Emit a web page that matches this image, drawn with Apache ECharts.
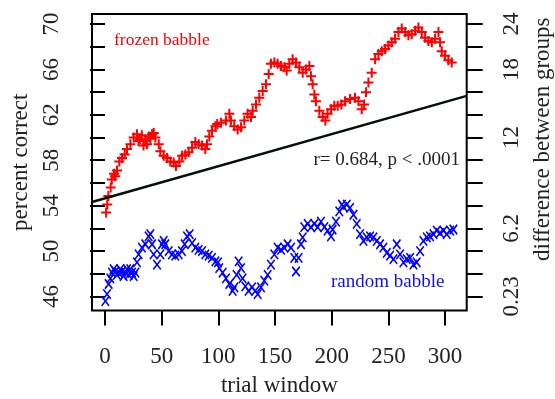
<!DOCTYPE html>
<html>
<head>
<meta charset="utf-8">
<script src="https://cdn.jsdelivr.net/npm/echarts@6/dist/echarts.min.js"></script>
<style>
html,body{margin:0;padding:0;background:#fff;}
#chart{width:555px;height:399px;}
</style>
</head>
<body>
<div id="chart"></div>
<script>
//数据: frozen babble (红色 +)
var frozenX = [1,2,3,5,6,8,9,10.6,12.6,15,17.4,19.4,22.4,25.3,28.2,29.5,31,32.5,34,35.6,37,38.5,40,41.5,43,44.4,47.4,48.8,51.8,54.7,57.6,60.6,62.6,65.6,68,70.9,73.8,76.8,79.7,82.6,85.6,88.5,90,92,94.4,97.4,99,102.3,106.7,109.7,111.1,114,117,120,122.9,125.8,128.8,130.3,133.2,136.1,139.1,142,144.4,146.4,149.4,152.3,155.3,158.2,160.3,162.6,165.5,168.5,171.4,174.4,177.3,180.3,181.7,183.2,184.7,186.1,189.1,192,194.4,196.4,199.4,202.3,205.3,208.5,211.8,216.2,220.6,223.6,226.5,228.6,230.3,232.4,235.3,238.3,241.2,244.2,247.1,250,253,255.9,258.9,261.8,264.8,267.7,270.6,273.6,276.5,279.5,282.4,285.3,288.3,291.2,294.2,295.6,297.1,300,302.9,305.9];
var frozenY = [53.4,54.1,54.85,55.6,56.3,56.8,56.6,57.1,57.9,58.2,58.5,59.0,59.4,60.0,60.3,59.7,59.85,60.2,59.3,59.7,59.4,60.1,59.9,60.3,60.4,60.0,59.4,58.8,58.4,58.2,57.9,57.8,57.5,57.9,58.4,58.5,58.7,59.1,59.6,59.4,59.3,59.0,59.4,60.1,60.6,61.0,61.2,61.3,61.5,62.1,61.5,61.0,60.7,60.9,61.5,62.1,61.8,62.35,62.9,63.5,64.1,64.7,65.6,66.5,66.6,66.5,66.3,66.2,65.9,66.5,66.9,66.6,66.2,65.7,66.0,66.3,65.4,64.7,63.8,63.2,62.35,61.8,61.5,62.1,62.5,62.8,62.8,62.9,63.2,63.4,63.5,63.2,62.5,62.9,64.0,64.85,65.7,66.9,67.35,67.6,67.8,68.1,68.4,68.7,69.3,69.6,69.3,69.0,69.1,69.4,69.7,69.3,68.8,68.5,68.4,68.7,69.3,68.4,67.6,67.2,66.8,66.6];
//数据: random babble (蓝色 x)
var randomX = [0.3,1.8,3.2,4.7,6.2,7.6,9.1,10.5,12,13.5,15,16.4,17.9,19.4,20.9,22.3,23.8,25.3,26.8,28.2,29.7,32.6,35.6,38.5,40,41.5,42.9,45.9,48.8,50.3,51.8,53.2,56.2,59.1,62,65,67.9,70.3,72.4,74.7,76.8,79.7,82.6,85.6,88.5,91.5,94.4,97.4,99.7,100.8,103.8,106.7,109.7,112.6,114.1,116.1,117.9,120,121.4,123.8,126.7,129.7,132.6,134.7,137.6,140.5,143.5,146.4,149.4,152.3,155.3,158.2,161.1,164.1,167,168.5,170.8,172.9,174.4,175.8,178.8,181.7,184.7,187.6,190.5,193.5,196.4,199.4,200.8,203.8,206.7,209.1,210.3,213.3,216.2,219.2,222.1,225,228,230.9,233.9,236.8,239.8,242.7,245.6,248.6,251.5,254.5,257.4,260.3,263.3,266.2,269.2,272.1,275,278,280.9,283.9,286.8,289.8,292.7,295.6,298.6,301.5,304.5,307.4];
var randomY = [45.6,46.2,47.1,47.6,48.1,48.4,48.2,47.9,48.1,48.4,48.2,47.8,48.1,48.4,47.9,48.4,48.1,47.8,48.1,49.0,49.7,50.3,50.6,51.3,51.5,50.6,49.7,48.8,49.7,50.6,50.9,50.6,50.0,49.7,49.6,49.7,50.0,50.6,51.3,51.5,50.7,50.3,50.1,50.0,49.7,49.6,49.4,49.1,49.0,48.5,48.1,47.6,47.1,46.5,46.8,47.9,49.1,48.5,47.6,46.9,46.5,46.8,46.5,46.2,46.8,47.4,47.9,48.8,49.7,50.3,50.1,50.3,50.6,50.3,49.4,48.2,49.4,50.6,51.2,52.1,52.4,52.1,52.4,52.1,52.6,52.1,51.8,51.3,51.9,52.6,53.5,54.1,53.9,54.1,53.8,53.2,52.4,51.5,50.9,51.2,51.3,51.2,50.9,50.6,50.3,49.85,49.6,49.3,50.6,49.7,49.0,49.3,49.4,48.8,49.0,50.0,50.9,51.2,51.3,51.5,51.8,51.6,51.8,51.5,51.8,51.9];
//回归线 (两端)
var regX = [-11.47, 319.1];
var regY = [54.32, 63.67];
//坐标轴刻度
var xTicks = [0,50,100,150,200,250,300];
var leftTicks = [46,48,50,52,54,56,58,60,62,64,66,68,70];
var leftLabels = [46,50,54,58,62,66,70];
//右轴: 左轴位置 -> 右轴文字
var diffPos = [46,52,60,66,70];
var diffText = ['0.23','6.2','12','18','24'];

var FONT = 'Liberation Serif';

function toPairs(xs, ys){
	var out = [];
	for(var i = 0; i < xs.length; i++){
		out.push([xs[i], ys[i]]);
	}
	return out;
}

var chart = echarts.init(document.getElementById('chart'), null, {renderer:'canvas'});

var axisText = {fontFamily: FONT, fontSize: 23, color: '#222'};

var option = {
	animation: false,
	backgroundColor: '#fff',
	grid: {
		left: 92, top: 14, right: 88.3, bottom: 88.5,
		show: true, borderColor: '#000', borderWidth: 2,
		outerBoundsMode: 'none'
	},
	xAxis: {
		type: 'value', min: -11.47, max: 319.1,
		name: 'trial window', nameLocation: 'middle', nameGap: 64,
		nameTextStyle: axisText,
		axisLine: {show: false},
		axisTick: {show: true, length: 15, lineStyle: {color: '#000', width: 2}, customValues: xTicks},
		axisLabel: {margin: 35, fontFamily: FONT, fontSize: 23, color: '#222', customValues: xTicks},
		splitLine: {show: false}
	},
	yAxis: [{
		type: 'value', min: 44.765, max: 70.882, position: 'left',
		name: 'percent correct', nameLocation: 'middle', nameGap: 57,
		nameTextStyle: axisText,
		axisLine: {show: false},
		axisTick: {show: true, length: 15, lineStyle: {color: '#000', width: 2}, customValues: leftTicks},
		axisLabel: {rotate: 90, margin: 29, fontFamily: FONT, fontSize: 23, color: '#222', customValues: leftLabels},
		splitLine: {show: false}
	}, {
		type: 'value', min: 44.765, max: 70.882, position: 'right',
		name: 'difference between groups', nameLocation: 'middle', nameGap: 58,
		nameTextStyle: {fontFamily: FONT, fontSize: 23, color: '#222', padding: [0, 0, 0, 46]},
		axisLine: {show: false},
		axisTick: {show: true, length: 16, lineStyle: {color: '#000', width: 2}, customValues: leftTicks},
		axisLabel: {
			rotate: 90, margin: 34, fontFamily: FONT, fontSize: 23, color: '#222', customValues: diffPos,
			formatter: function(v){
				var idx = diffPos.indexOf(v);
				return idx >= 0 ? diffText[idx] : '';
			}
		},
		splitLine: {show: false}
	}],
	graphic: [
		{type: 'text', left: 114, top: 31, silent: true,
			style: {text: 'frozen babble', fill: '#ff0000', font: '17.5px "Liberation Serif"'}},
		{type: 'text', right: 95, top: 151, silent: true,
			style: {text: 'r= 0.684, p < .0001', fill: '#222', font: '19px "Liberation Serif"'}},
		{type: 'text', left: 331, top: 273, silent: true,
			style: {text: 'random babble', fill: '#1010ee', font: '19px "Liberation Serif"'}}
	],
	series: [{
		name: 'frozen babble', type: 'scatter', silent: true,
		symbol: 'path://M0,5L10,5M5,0L5,10', symbolSize: 10,
		itemStyle: {color: 'rgba(0,0,0,0)', borderColor: '#ff0000', borderWidth: 2, opacity: 1},
		data: toPairs(frozenX, frozenY)
	}, {
		name: 'random babble', type: 'scatter', silent: true,
		symbol: 'path://M0,0L8,10M8,0L0,10', symbolSize: [7.5, 9.5],
		itemStyle: {color: 'rgba(0,0,0,0)', borderColor: '#0000ff', borderWidth: 1.6, opacity: 1},
		data: toPairs(randomX, randomY)
	}, {
		name: 'fit', type: 'line', silent: true, symbol: 'none',
		lineStyle: {color: '#051005', width: 2.5},
		data: toPairs(regX, regY)
	}]
};
chart.setOption(option);
</script>
</body>
</html>
